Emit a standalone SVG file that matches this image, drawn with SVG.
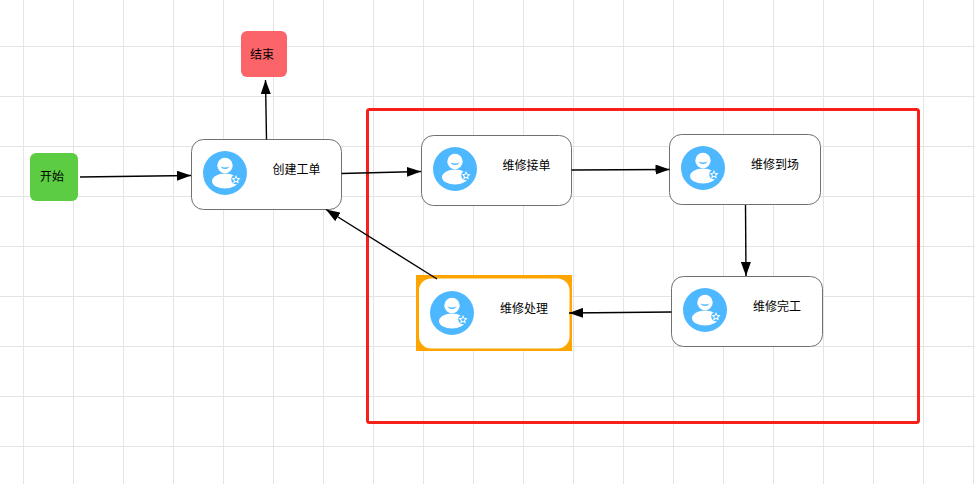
<svg xmlns="http://www.w3.org/2000/svg" width="975" height="484" viewBox="0 0 975 484">
<defs>
<style>
.g{stroke:#e4e4e4;stroke-width:1;fill:none}
.t{font-family:"Liberation Sans","Noto Sans CJK SC",sans-serif;font-size:12px;fill:#000;text-anchor:middle}
.c{stroke:#000;stroke-width:1.4;fill:none;marker-end:url(#a)}
.n{fill:#fff;stroke:#707070;stroke-width:1}
</style>
<marker id="a" markerUnits="userSpaceOnUse" markerWidth="15" markerHeight="10" refX="14" refY="5" orient="auto"><path d="M0 0L14 5L0 10Z" fill="#000"/></marker>
<g id="p"><circle cx="22" cy="22" r="22" fill="#4db8ff"/><circle cx="22" cy="14.500" r="7.700" fill="#fff"/><path d="M17.500 15.500a5 4.500 0 0 0 9 0a6 2.500 0 0 1-9 0Z" fill="#4db8ff"/><ellipse cx="22" cy="30" rx="13" ry="7.500" fill="#fff"/><circle cx="33" cy="28.500" r="4.800" fill="#4db8ff"/><path d="M33 24l1.400 2.900 3.100.4-2.300 2.200.6 3.100-2.800-1.500-2.800 1.500.6-3.100-2.300-2.200 3.100-.4Z" fill="#fff"/><path d="M33 26.300l.7 1.400 1.500.2-1.100 1.100.3 1.500-1.400-.7-1.400.7.3-1.500-1.100-1.100 1.500-.2Z" fill="#4db8ff"/></g>
</defs>
<rect width="975" height="484" fill="#fff"/>
<path class="g" d="M23.500 0V484M73.500 0V484M123.500 0V484M173.500 0V484M223.500 0V484M273.500 0V484M323.500 0V484M373.500 0V484M423.500 0V484M473.500 0V484M523.500 0V484M573.500 0V484M623.500 0V484M673.500 0V484M723.500 0V484M773.500 0V484M823.500 0V484M873.500 0V484M923.500 0V484M973.500 0V484M0 46.500H975M0 96.500H975M0 146.500H975M0 196.500H975M0 246.500H975M0 296.500H975M0 346.500H975M0 396.500H975M0 446.500H975"/>
<rect id="frame" x="367.500" y="109.500" width="551" height="313" rx="2" fill="none" stroke="#f5201a" stroke-width="3"/>
<g id="start"><rect x="30" y="153" width="48" height="48" rx="6" fill="#5ccd42"/><text class="t" x="52" y="181">开始</text></g>
<g id="end"><rect x="241" y="31" width="46" height="46" rx="6" fill="#fb6469"/><text class="t" x="262" y="59">结束</text></g>
<g id="create"><rect class="n" x="191.500" y="139.500" width="150" height="70" rx="12"/><use href="#p" x="203" y="151"/><text class="t" x="296.500" y="174">创建工单</text></g>
<g id="accept"><rect class="n" x="421.500" y="135.500" width="150" height="70" rx="12"/><use href="#p" x="433" y="147"/><text class="t" x="526.500" y="170">维修接单</text></g>
<g id="arrive"><rect class="n" x="669.500" y="134.500" width="151" height="70" rx="12"/><use href="#p" x="681" y="146"/><text class="t" x="775" y="169">维修到场</text></g>
<g id="finish"><rect class="n" x="671.500" y="276.500" width="151" height="70" rx="12"/><use href="#p" x="683" y="288"/><text class="t" x="777" y="311">维修完工</text></g>
<g id="process"><rect x="416" y="275" width="156" height="76" fill="#ffa500"/><rect x="419" y="278.500" width="150.500" height="70" rx="12" fill="#fff"/><use href="#p" x="430" y="291"/><text class="t" x="524" y="313">维修处理</text></g>
<g id="connectors">
<path class="c" d="M80 177L191 175.500"/>
<path class="c" d="M266.500 139.500L265.500 80"/>
<path class="c" d="M341.500 173.500L421 171.500"/>
<path class="c" d="M571.500 170L669.500 169.500"/>
<path class="c" d="M745.500 205L746 276"/>
<path class="c" d="M671.500 312L569 313"/>
<path class="c" d="M437 279L326 209.500"/>
</g>
</svg>
